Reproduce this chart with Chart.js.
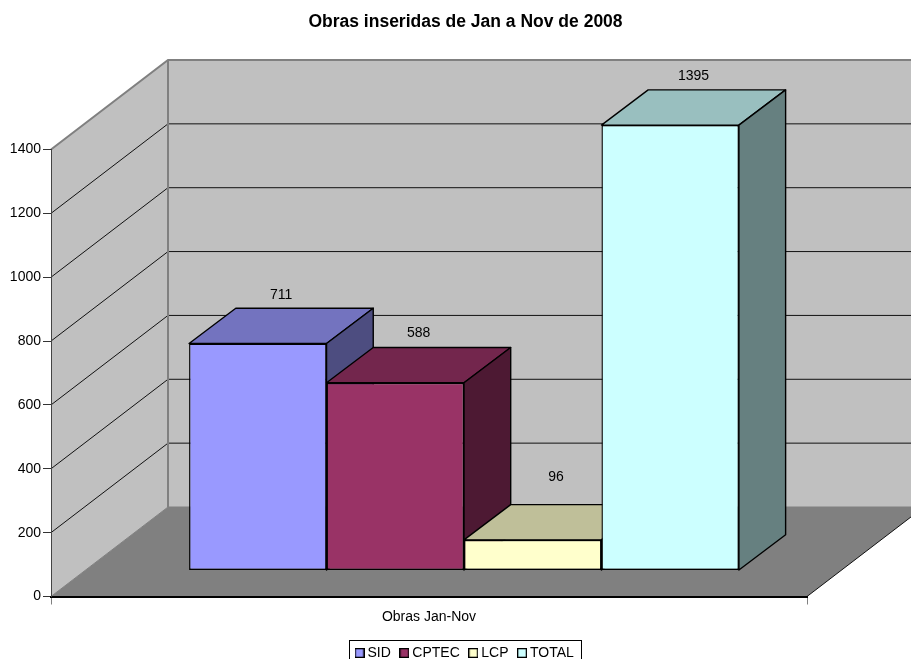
<!DOCTYPE html>
<html>
<head>
<meta charset="utf-8">
<style>html,body{margin:0;padding:0;background:#fff;overflow:hidden}canvas{display:block}</style>
<script src="https://cdn.jsdelivr.net/npm/chart.js@4"></script>
</head>
<body>
<div style="width:911px;height:659px;position:relative"><canvas id="c" width="911" height="659"></canvas></div>
<script>
const categories = ['Obras Jan-Nov'];
const seriesNames = ['SID', 'CPTEC', 'LCP', 'TOTAL'];
const sidValues = [711];
const cptecValues = [588];
const lcpValues = [96];
const totalValues = [1395];
const yTicks = [0, 200, 400, 600, 800, 1000, 1200, 1400];
const titleText = 'Obras inseridas de Jan a Nov de 2008';

const FONT = '"Liberation Sans", Arial, sans-serif';
const fills = ['#9999FF', '#993366', '#FFFFCC', '#CCFFFF'];
const tops = ['#7373BF', '#73264D', '#BFBF99', '#99BFBF'];
const sides = ['#4D4D80', '#4D1933', '#808066', '#668080'];
const WALL = {dx: 117, dy: 89.5};
const BAR = {dx: 46.7, dy: 35.2, ox: 35, oy: -26};
const labelLift = [13.5, 14, 28, 14];

function poly(ctx, pts, fill, stroke, lw) {
  ctx.beginPath();
  pts.forEach((p, i) => i ? ctx.lineTo(p[0], p[1]) : ctx.moveTo(p[0], p[1]));
  ctx.closePath();
  if (fill) { ctx.fillStyle = fill; ctx.fill(); }
  if (stroke) { ctx.strokeStyle = stroke; ctx.lineWidth = lw || 1; ctx.lineJoin = 'round'; ctx.stroke(); }
}
function line(ctx, pts, color, lw) {
  ctx.beginPath();
  pts.forEach((p, i) => i ? ctx.lineTo(p[0], p[1]) : ctx.moveTo(p[0], p[1]));
  ctx.strokeStyle = color; ctx.lineWidth = lw; ctx.stroke();
}

const scene3d = {
  id: 'scene3d',
  afterLayout(chart) {
    const t = chart.titleBlock;
    t.left = 0; t.right = 931;
    const l = chart.legend;
    const pad = l.options.labels.padding;
    l.left = 0;
    l.right = 2 * 358.5 - pad + l.lineWidths[0];
    l.top = 646 - pad;
  },
  beforeDraw(chart) {
    const ctx = chart.ctx, a = chart.chartArea, y = chart.scales.y;
    const L = a.left, R = a.right, B = y.getPixelForValue(0), T = y.getPixelForValue(1400);
    const d = WALL;
    ctx.save();
    poly(ctx, [[L, T], [L + d.dx, T - d.dy], [L + d.dx, B - d.dy], [L, B]], '#C0C0C0');
    poly(ctx, [[L + d.dx, T - d.dy], [R + d.dx, T - d.dy], [R + d.dx, B - d.dy], [L + d.dx, B - d.dy]], '#C0C0C0');
    poly(ctx, [[L, B], [R, B], [R + d.dx, B - d.dy], [L + d.dx, B - d.dy]], '#808080');
    yTicks.forEach(v => {
      if (v === 0 || v === 1400) return;
      const py = y.getPixelForValue(v);
      line(ctx, [[L, py], [L + d.dx, py - d.dy], [R + d.dx, py - d.dy]], '#111', 1);
    });
    line(ctx, [[L, T], [L + d.dx, T - d.dy], [R + d.dx, T - d.dy]], '#808080', 2);
    line(ctx, [[L + d.dx, T - d.dy], [L + d.dx, B - d.dy]], '#808080', 2);
    line(ctx, [[L, B], [L + d.dx, B - d.dy], [R + d.dx, B - d.dy]], '#808080', 1);
    line(ctx, [[R, B], [R + d.dx, B - d.dy]], '#111', 1);
    ctx.restore();
  },
  beforeDatasetDraw() { return false; },
  afterDatasetsDraw(chart) {
    const ctx = chart.ctx;
    ctx.save();
    ctx.translate(BAR.ox, BAR.oy);
    chart.data.datasets.forEach((ds, i) => {
      const meta = chart.getDatasetMeta(i);
      meta.data.forEach(el => {
        const p = el.getProps(['x', 'y', 'base', 'width'], true);
        const x0 = p.x - p.width / 2, x1 = p.x + p.width / 2;
        const dx = BAR.dx, dy = BAR.dy;
        poly(ctx, [[x0, p.y], [x0 + dx, p.y - dy], [x1 + dx, p.y - dy], [x1, p.y]], tops[i], '#000', 1.4);
        poly(ctx, [[x1, p.y], [x1 + dx, p.y - dy], [x1 + dx, p.base - dy], [x1, p.base]], sides[i], '#000', 1.4);
        el.draw(ctx);
      });
    });
    ctx.restore();
    ctx.save();
    ctx.font = '14px ' + FONT; ctx.fillStyle = '#000';
    ctx.textAlign = 'center'; ctx.textBaseline = 'middle';
    chart.data.datasets.forEach((ds, i) => {
      chart.getDatasetMeta(i).data.forEach((el, j) => {
        const p = el.getProps(['x', 'y'], true);
        ctx.fillText(String(ds.data[j]), p.x + BAR.ox + BAR.dx / 2, p.y + BAR.oy - BAR.dy - labelLift[i]);
      });
    });
    ctx.restore();
  },
  afterDraw(chart) {
    const ctx = chart.ctx;
    ctx.save();
    ctx.strokeStyle = '#000'; ctx.lineWidth = 1;
    ctx.strokeRect(349.5, 640.5, 232, 30);
    ctx.restore();
  }
};

function swatch(fill) {
  const c = document.createElement('canvas');
  c.width = 10; c.height = 10;
  const g = c.getContext('2d');
  g.fillStyle = fill; g.fillRect(0, 0, 10, 10);
  g.strokeStyle = '#000'; g.lineWidth = 1.3; g.strokeRect(0.65, 0.65, 8.7, 8.7);
  return c;
}

const valueSets = [sidValues, cptecValues, lcpValues, totalValues];
new Chart(document.getElementById('c'), {
  type: 'bar',
  plugins: [scene3d],
  data: {
    labels: categories,
    datasets: seriesNames.map((n, i) => ({
      label: n, data: valueSets[i],
      backgroundColor: fills[i], borderColor: '#000', borderWidth: 1.4, borderSkipped: false,
      categoryPercentage: 0.7273, barPercentage: 1
    }))
  },
  options: {
    responsive: false, animation: false,
    layout: {padding: {left: 0, right: 104, top: 0, bottom: 0}},
    plugins: {
      tooltip: {enabled: false},
      title: {display: true, text: titleText, color: '#000',
        font: {family: FONT, size: 17.5, weight: 'bold'},
        padding: {top: 11.5, bottom: 117}},
      legend: {position: 'bottom', labels: {
        color: '#000', font: {family: FONT, size: 14}, padding: 12.5,
        boxWidth: 2, boxHeight: 2, usePointStyle: true,
        generateLabels(chart) {
          return Chart.defaults.plugins.legend.labels.generateLabels(chart).map((it, i) => {
            it.pointStyle = swatch(fills[i]); return it;
          });
        }
      }}
    },
    scales: {
      x: {
        grid: {drawOnChartArea: false, color: '#808080', tickLength: 8, lineWidth: 1},
        border: {color: '#000', width: 2},
        ticks: {color: '#000', font: {family: FONT, size: 14}, padding: 4},
        afterFit(s) { s.height = 26; }
      },
      y: {
        min: 0, max: 1400,
        grid: {drawOnChartArea: false, color: '#333', tickLength: 8},
        border: {color: '#444', width: 1},
        afterBuildTicks(s) { s.ticks = yTicks.map(v => ({value: v})); },
        ticks: {color: '#000', font: {family: FONT, size: 14}, padding: 2, callback: v => String(v)},
        afterFit(s) { s.width = 51; }
      }
    }
  }
});
</script>
</body>
</html>
